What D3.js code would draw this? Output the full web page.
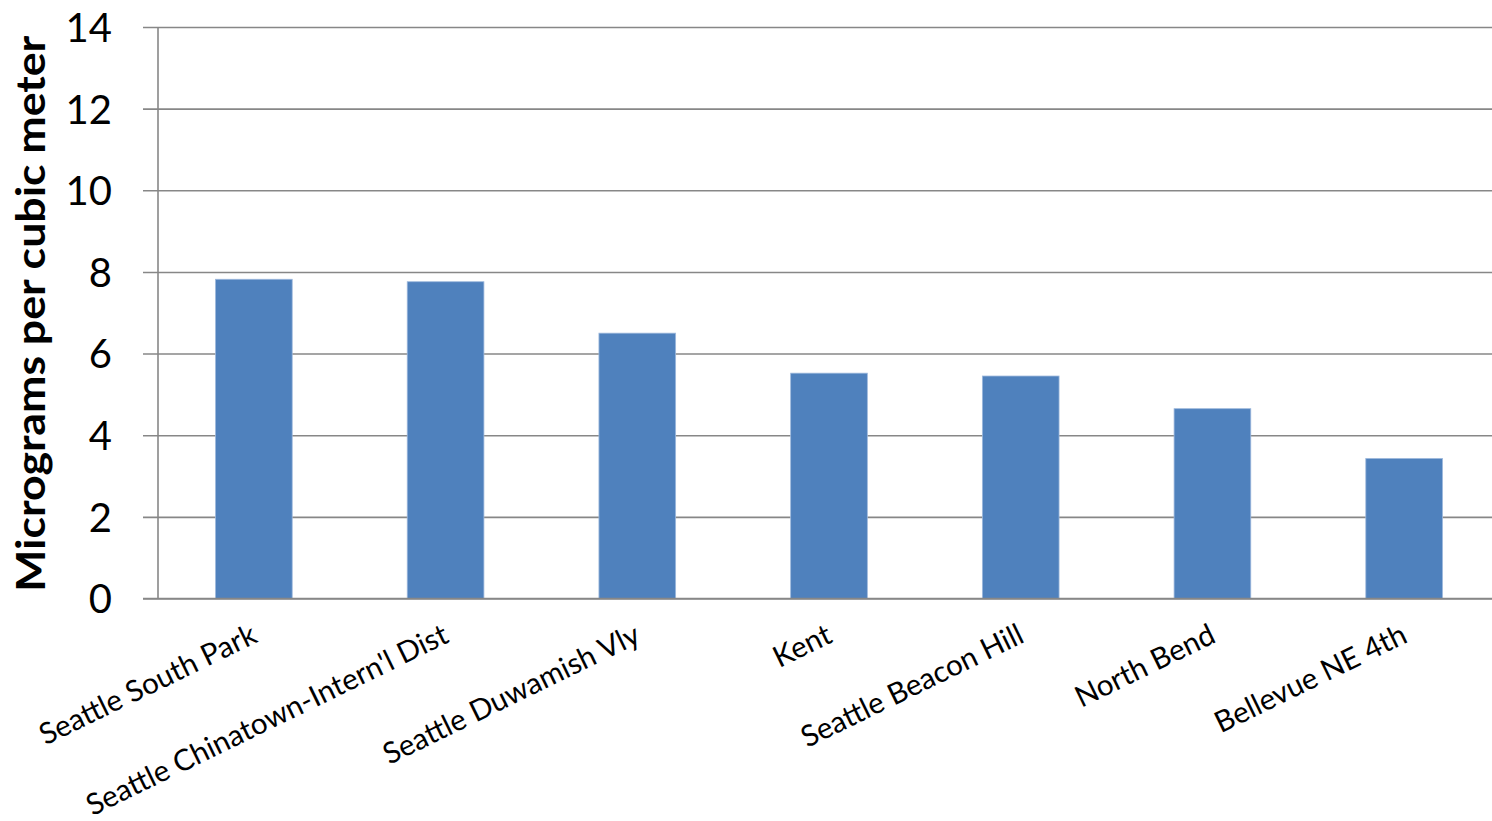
<!DOCTYPE html>
<html>
<head>
<meta charset="utf-8">
<script src="https://cdn.jsdelivr.net/npm/d3@7"></script>
<style>
  body { margin: 0; background: #fff; overflow: hidden; }
  text { font-family: Lato, "Open Sans", sans-serif; fill: #000; }
</style>
</head>
<body>
<div id="chart"></div>
<script>
const sites = ["Seattle South Park", "Seattle Chinatown-Intern'l Dist", "Seattle Duwamish Vly", "Kent",
  "Seattle Beacon Hill", "North Bend", "Bellevue NE 4th"]
const values = [7.82, 7.76, 6.50, 5.52, 5.45, 4.65, 3.43]
const yTicks = [0, 2, 4, 6, 8, 10, 12, 14]
const yTitle = "Micrograms per cubic meter"

const totalWidth = 1492, totalHeight = 821
// plot runs a little past the right edge of the picture, like the original
const margin = { top: 27, left: 158, bottom: 222.5 }
const width = 1342
const height = totalHeight - margin.top - margin.bottom

const svg = d3.select("div#chart").append("svg").attr("width", totalWidth).attr("height", totalHeight)
const g = svg.append("g").attr("transform", `translate(${margin.left}, ${margin.top})`)

const x = d3.scaleBand().domain(sites).range([0, width]).paddingInner(0.6).paddingOuter(0.3)
const y = d3.scaleLinear().domain([0, 14]).range([height, 0])

// gridlines + ticks on the left
const yAxis = d3.axisLeft(y).tickValues(yTicks).tickSize(0).tickFormat(d3.format("d"))
const yAxisGroup = g.append("g").call(yAxis)
yAxisGroup.select(".domain").remove()
yAxisGroup.selectAll(".tick line").attr("x1", -15).attr("x2", width).attr("stroke", "#878787").attr("stroke-width", 1.6)
yAxisGroup.selectAll(".tick text").attr("font-size", 40).attr("x", -46).attr("dy", "0.36em")
  .style("font-family", "Lato, sans-serif")

// vertical axis line
g.append("line").attr("x1", 0).attr("x2", 0).attr("y1", y(14)).attr("y2", y(0))
  .attr("stroke", "#878787").attr("stroke-width", 1.6)

// bars
g.selectAll("rect.bar").data(values).join("rect")
  .attr("class", "bar")
  .attr("x", (d, i) => x(sites[i]))
  .attr("width", x.bandwidth())
  .attr("y", d => y(d))
  .attr("height", d => y(0) - y(d))
  .attr("fill", "#4F81BD")
  .attr("stroke", "#9DB8DC")
  .attr("stroke-width", 0.8)

// bottom axis line
g.append("line").attr("x1", -15).attr("x2", width).attr("y1", y(0)).attr("y2", y(0))
  .attr("stroke", "#878787").attr("stroke-width", 1.6)

// category labels, rotated
g.selectAll("text.cat").data(sites).join("text")
  .attr("class", "cat")
  .attr("text-anchor", "end")
  .attr("font-size", 29.5)
  .attr("transform", d => `translate(${x(d) + x.bandwidth() / 2 + 5}, ${height + 43}) rotate(-26)`)
  .text(d => d)

// y title
svg.append("text")
  .attr("transform", `translate(45, ${margin.top + height / 2 + 1}) rotate(-90)`)
  .attr("text-anchor", "middle")
  .attr("font-size", 41)
  .attr("font-weight", "bold")
  .attr("textLength", 556)
  .attr("lengthAdjust", "spacingAndGlyphs")
  .text(yTitle)
</script>
</body>
</html>
